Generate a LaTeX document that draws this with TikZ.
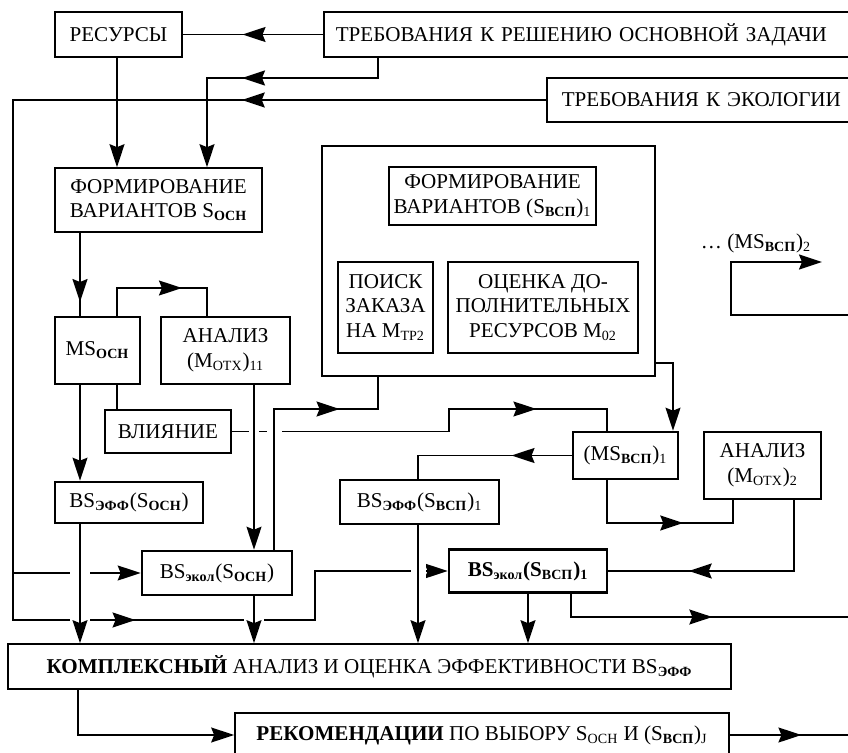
\documentclass[tikz,border=0pt]{standalone}
\usepackage{fontspec}
\setmainfont{Liberation Serif}
\usetikzlibrary{arrows.meta, calc, decorations.markings}
\newcommand{\lo}[1]{\textsubscript{#1}}
\newcommand{\blo}[1]{\textsubscript{\bfseries #1}}

\begin{document}
\begin{tikzpicture}[x=0.2mm, y=-0.2mm, line width=0.95pt,
        font=\fontsize{12}{14}\selectfont,
        box/.style={draw, rectangle, align=center, inner sep=0.6mm},
        bbox/.style={box, line width=1.5pt},
        arr/.style={-{Stealth[length=4.6mm, width=3mm, inset=0.6mm]}},
        midtip/.style={postaction={decorate, decoration={markings,
            mark=at position #1 with {\arrow{Stealth[length=4.6mm, width=3mm, inset=0.6mm]}}}}},
        jump/.style={preaction={draw=white, line width=#1, -,
            shorten <=2.6mm, shorten >=2.6mm}},
        jump/.default=4mm
      ]
  \useasboundingbox (0,0) rectangle (848,753);
  \clip (0,0) rectangle (848,753);

  % requirements and resources
  \node[box, minimum width=25.4mm, minimum height=9mm] (res) at (118.5,34.5) {РЕСУРСЫ};
  \node[box, anchor=west, minimum height=9mm, text width=110mm, inner xsep=2.4mm, align=left]
    (treb) at (323,34.5) {ТРЕБОВАНИЯ К РЕШЕНИЮ ОСНОВНОЙ ЗАДАЧИ};
  \node[box, anchor=west, minimum height=8.8mm, text width=70mm, inner xsep=3mm, align=left]
    (eco) at (546,100) {ТРЕБОВАНИЯ К ЭКОЛОГИИ};

  % main task branch
  \node[box, minimum width=41.4mm, minimum height=12.8mm] (formO) at (158.5,200)
    {ФОРМИРОВАНИЕ\\ВАРИАНТОВ S\blo{ОСН}};
  \node[bbox, minimum width=17mm, minimum height=13.4mm] (msO) at (97.5,350.5) {MS\blo{ОСН}};
  \node[box, minimum width=25.8mm, minimum height=13.4mm] (an1) at (225.5,350.5)
    {АНАЛИЗ\\(M\lo{ОТХ})\lo{11}};
  \node[box, minimum width=25.2mm, minimum height=8.6mm] (infl) at (168,431.5) {ВЛИЯНИЕ};
  \node[bbox, minimum width=29.6mm, minimum height=8.2mm] (bseO) at (129,502.5)
    {BS\blo{ЭФФ}(S\blo{ОСН})};
  \node[bbox, minimum width=30mm, minimum height=8.8mm] (bskO) at (217,573)
    {BS\blo{экол}(S\blo{ОСН})};

  % auxiliary task branch
  \node[box, minimum width=66.6mm, minimum height=46mm] (grp) at (488.5,261) {};
  \node[box, minimum width=41.4mm, minimum height=11.6mm] (formV) at (492.5,196)
    {ФОРМИРОВАНИЕ\\ВАРИАНТОВ (S\blo{ВСП})\lo{1}};
  \node[box, minimum width=19mm, minimum height=18.2mm] (srch) at (385.5,307.5)
    {ПОИСК\\ЗАКАЗА\\НА M\lo{ТР2}};
  \node[box, minimum width=38mm, minimum height=18.2mm] (estm) at (543,307.5)
    {ОЦЕНКА ДО-\\ПОЛНИТЕЛЬНЫХ\\РЕСУРСОВ M\lo{02}};
  \node[bbox, minimum width=21mm, minimum height=9.4mm] (msV) at (625.5,455.5)
    {(MS\blo{ВСП})\lo{1}};
  \node[box, minimum width=23.4mm, minimum height=13.4mm] (an2) at (762.5,465.5)
    {АНАЛИЗ\\(M\lo{ОТХ})\lo{2}};
  \node[bbox, minimum width=31.8mm, minimum height=8.8mm] (bseV) at (419.5,502)
    {BS\blo{ЭФФ}(S\blo{ВСП})\lo{1}};
  \node[bbox, minimum width=31.6mm, minimum height=8.6mm] (bskV) at (528,571)
    {\bfseries BS\blo{экол}(S\blo{ВСП})\lo{1}};
  \node (dots) at (756,243) {\dots\ (MS\blo{ВСП})\lo{2}};

  % results
  \node[box, minimum width=144.6mm, minimum height=9mm] (cmpl) at (369.5,666.5)
    {\textbf{КОМПЛЕКСНЫЙ} АНАЛИЗ И ОЦЕНКА ЭФФЕКТИВНОСТИ BS\blo{ЭФФ}};
  \node[box, minimum width=98.8mm, minimum height=8.8mm] (rec) at (482,735)
    {\textbf{РЕКОМЕНДАЦИИ} ПО ВЫБОРУ S\lo{ОСН} И (S\blo{ВСП})\lo{J}};

  % vertical lanes
  \coordinate (xz) at (13,0);   \coordinate (xr) at (78,0);
  \coordinate (xa) at (80,0);   \coordinate (xb) at (117,0);
  \coordinate (xc) at (207,0);  \coordinate (xd) at (254,0);
  \coordinate (xe) at (274,0);  \coordinate (xf) at (378,0);
  \coordinate (xh) at (418,0);  \coordinate (xk) at (528,0);
  \coordinate (xl) at (571,0);  \coordinate (xi) at (607,0);
  \coordinate (xj) at (673,0);  \coordinate (xm) at (733,0);
  \coordinate (xn) at (794,0);
  \coordinate (outA) at (860,617);
  \coordinate (outB) at (860,735);
  \coordinate (loopIn) at (860,315);
  \coordinate (loopOut) at (822,262);

  % plain connectors
  \draw[midtip=.574] (treb.west) -- (res.east);
  \draw[arr, midtip=.557] (treb.south -| xf) -- (378,78) -- (207,78) -- (formO.north -| xc);
  \draw[arr, midtip=.198, midtip=.765] (eco.west) -- (eco.west -| xz) -- (13,620)
    -- (315,620) |- (bskV.west);
  \draw[arr] (xz |- bskO.west) -- (bskO.west);
  \draw[arr] (res.south -| xb) -- (formO.north -| xb);
  \draw[midtip=.835] (formO.south -| xa) -- (msO.north -| xa);
  \draw[midtip=.635] (msO.north -| xb) -- (117,288) -- (207,288) -- (an1.north -| xc);
  \draw (msO.south -| xb) -- (infl.north -| xb);
  \draw[arr] (msO.south -| xa) -- (bseO.north -| xa);
  \draw[midtip=.78] (infl.east) -- (449,431.5) -- (449,409) -- (607,409) -- (msV.north -| xi);
  \draw[arr] ($(grp.south east)+(0,-14)$) -| (msV.north -| xj);
  \draw[midtip=.34] (msV.west) -| (bseV.north -| xh);
  \draw[midtip=.62] (msV.south -| xi) -- (607,523) -- (733,523) -- (an2.south -| xm);
  \draw[midtip=.687] (an2.south -| xn) |- (bskV.east);
  \draw[arr] (bskV.south -| xk) -- (cmpl.north -| xk);
  \draw[midtip=.527] (bskV.south -| xl) |- (outA);
  \draw[arr] (cmpl.south -| xr) |- (rec.west);
  \draw[midtip=.55] (rec.east) -- (outB);
  \draw[arr] (loopIn) -- (731,315) -- (731,262) -- (loopOut);

  % connectors that cut the lines they cross
  \draw[arr, jump=2mm] (an1.south -| xd) -- (bskO.north -| xd);
  \draw[jump=3mm, midtip=.745] (bskO.north -| xe) -- (274,409) -- (378,409) -- (grp.south -| xf);
  \draw[arr, jump] (bseO.south -| xa) -- (cmpl.north -| xa);
  \draw[arr, jump] (bskO.south -| xd) -- (cmpl.north -| xd);
  \draw[arr, jump=3mm] (bseV.south -| xh) -- (cmpl.north -| xh);
\end{tikzpicture}
\end{document}
